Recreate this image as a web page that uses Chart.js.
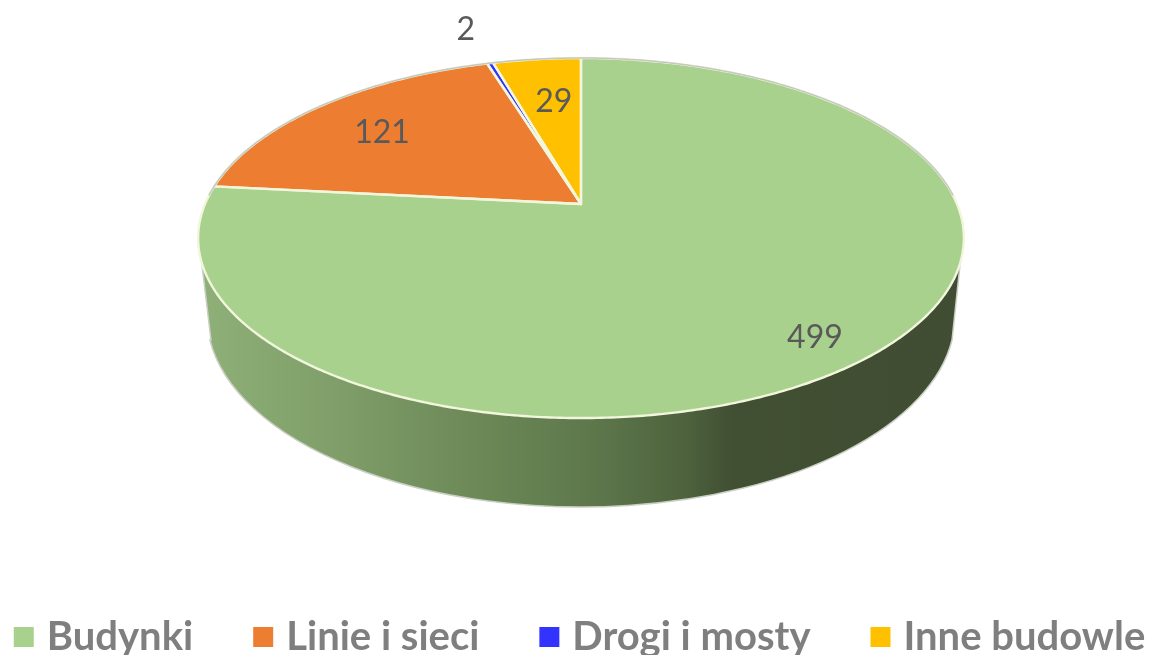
<!DOCTYPE html>
<html>
<head>
<meta charset="utf-8">
<style>html,body{margin:0;padding:0;background:#fff;overflow:hidden;width:1162px;height:655px;position:relative}canvas{display:block;position:absolute;left:-67px;top:0}</style>
<script src="https://cdn.jsdelivr.net/npm/chart.js@4"></script>
</head>
<body>
<canvas id="c" width="1300" height="655"></canvas>
<script>
const categories = ["Budynki", "Linie i sieci", "Drogi i mosty", "Inne budowle"];
const values = [499, 121, 2, 29];
const colors = ["#A9D18E", "#ED7D31", "#3333FF", "#FFC000"];

// label placement: fraction of the radius along the slice bisector, plus a small nudge
const labelRadial = [0.85, 0.75, 1.29, 0.67];
const labelNudge = [[-9, 9], [1, 5], [-3, 0], [4, 0]];

// perspective look of the disc (canvas is shifted left by canvasShift inside the page)
const canvasShift = 67;
const view = { apexX: 581 + canvasShift, apexY: 204, radius: 376, squash: 0.4617, persp: 0.189 };

function project(arc, angle, t) {
  const u = Math.cos(angle), v = Math.sin(angle);
  const w = 1 - view.persp * v * t;
  return {
    x: view.apexX + arc.outerRadius * t * u / w,
    y: view.apexY + arc.outerRadius * view.squash * t * v / w
  };
}

function rimPath(ctx, arc, a0, a1, move) {
  const n = Math.max(2, Math.ceil(Math.abs(a1 - a0) / 0.01));
  for (let i = 0; i <= n; i++) {
    const p = project(arc, a0 + (a1 - a0) * i / n, 1);
    if (i === 0 && move) ctx.moveTo(p.x, p.y); else ctx.lineTo(p.x, p.y);
  }
}

const disc3d = {
  id: "disc3d",
  beforeDatasetsDraw(chart) {
    const ctx = chart.ctx;
    const arcs = chart.getDatasetMeta(0).data;
    const first = arcs[0];
    const sx = canvasShift;

    // side wall
    const g = ctx.createLinearGradient(200 + sx, 0, 960 + sx, 0);
    g.addColorStop(0, "#8FB078");
    g.addColorStop(0.18, "#7F9E69");
    g.addColorStop(0.36, "#6C8957");
    g.addColorStop(0.52, "#5D774B");
    g.addColorStop(0.64, "#4D623D");
    g.addColorStop(0.70, "#414F33");
    g.addColorStop(1, "#404D32");
    ctx.save();
    ctx.beginPath();
    ctx.moveTo(198 + sx, 238);
    ctx.lineTo(202 + sx, 265);
    ctx.lineTo(211 + sx, 340);
    ctx.ellipse(581 + sx, 316, 374, 191, 0, Math.PI - 0.126, 0.126, true);
    ctx.lineTo(960 + sx, 265);
    ctx.lineTo(964 + sx, 238);
    ctx.closePath();
    ctx.fillStyle = g;
    ctx.fill();
    ctx.strokeStyle = "#C9CFC3";
    ctx.lineWidth = 1.5;
    ctx.stroke();

    // slices
    arcs.forEach((arc, i) => {
      ctx.beginPath();
      const c = project(arc, 0, 0);
      ctx.moveTo(c.x, c.y);
      rimPath(ctx, arc, arc.startAngle, arc.endAngle, false);
      ctx.closePath();
      ctx.fillStyle = colors[i];
      ctx.fill();
    });
    ctx.lineJoin = "round";
    arcs.forEach((arc) => {
      ctx.beginPath();
      const c = project(arc, 0, 0);
      ctx.moveTo(c.x, c.y);
      rimPath(ctx, arc, arc.startAngle, arc.endAngle, false);
      ctx.closePath();
      ctx.strokeStyle = "#F2F6DC";
      ctx.lineWidth = 2.4;
      ctx.stroke();
    });

    // back rim in grey
    ctx.beginPath();
    rimPath(ctx, first, Math.PI + 0.05, 2 * Math.PI - 0.05, true);
    ctx.strokeStyle = "#C4C8C0";
    ctx.lineWidth = 1.5;
    ctx.stroke();

    // value labels
    ctx.font = "32px Lato";
    ctx.fillStyle = "#595959";
    ctx.textAlign = "center";
    ctx.textBaseline = "middle";
    arcs.forEach((arc, i) => {
      const mid = (arc.startAngle + arc.endAngle) / 2;
      const p = project(arc, mid, labelRadial[i]);
      ctx.fillText(String(values[i]), p.x + labelNudge[i][0], p.y + labelNudge[i][1]);
    });
    ctx.restore();
    return false;
  }
};

new Chart(document.getElementById("c"), {
  type: "pie",
  data: {
    labels: categories,
    datasets: [{
      data: values,
      backgroundColor: colors,
      borderColor: colors,
      borderWidth: 14,
      radius: view.radius
    }]
  },
  options: {
    responsive: false,
    animation: false,
    layout: { padding: { bottom: -12 } },
    plugins: {
      tooltip: { enabled: false },
      legend: {
        position: "bottom",
        labels: {
          boxWidth: 6,
          boxHeight: 6,
          padding: 67,
          color: "#7F7F7F",
          font: { family: "Lato", size: 40, weight: "bold" }
        }
      }
    }
  },
  plugins: [disc3d]
});
</script>
</body>
</html>
